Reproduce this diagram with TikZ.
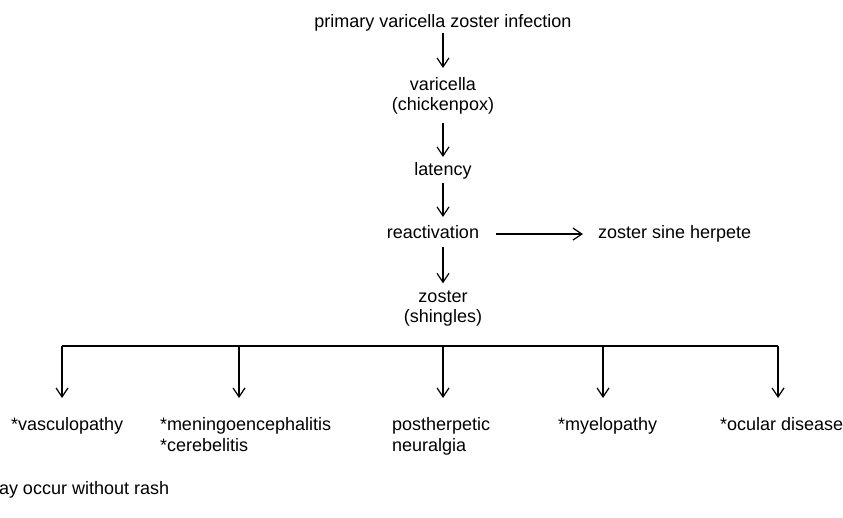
\documentclass[tikz,border=0pt]{standalone}
\usepackage{fontspec}
\setmainfont{Liberation Sans}
\usetikzlibrary{arrows.meta}
\begin{document}
\begin{tikzpicture}[x=1pt,y=-1pt,
  lbl/.style={inner sep=0pt, outer sep=0pt, font=\fontsize{18}{20}\selectfont},
  lblb/.style={inner sep=0pt, outer sep=0pt, font=\fontsize{18}{21}\selectfont},
  conn/.style={line width=1.2pt, -{Straight Barb[length=9pt,width=12pt,line width=1.2pt]}},
  plain/.style={line width=1.2pt}]
\useasboundingbox (0,0) rectangle (843,518);
% main column
\node[lbl, anchor=base] (prim) at (443,28) {primary varicella zoster infection};
\node[lbl, anchor=base, align=center] (vari) at (443,111) {varicella\\(chickenpox)};
\node[lbl, anchor=base] (lat) at (443,176) {latency};
\node[lbl, anchor=base] (react) at (433,239) {reactivation};
\node[lbl, anchor=base west] (sine) at (598,239) {zoster sine herpete};
\node[lbl, anchor=base, align=center] (zost) at (443,323) {zoster\\(shingles)};
% bottom row
\node[lblb, anchor=base west] (vasc) at (11,430) {*vasculopathy};
\node[lblb, anchor=base west, align=left] (men) at (160,451) {*meningoencephalitis\\*cerebelitis};
\node[lblb, anchor=base west, align=left] (phn) at (392,451) {postherpetic\\neuralgia};
\node[lblb, anchor=base west] (mye) at (558,430) {*myelopathy};
\node[lblb, anchor=base west] (ocu) at (720,430) {*ocular disease};
\node[lblb, anchor=base west] (note) at (-1,494) {ay occur without rash};
% connectors in the main column
\draw[conn, shorten <=1.5pt, shorten >=10pt] (prim.south) -- (vari.north);
\draw[conn, shorten <=8pt, shorten >=6pt] (vari.south) -- (lat.north);
\draw[conn, shorten <=3pt, shorten >=9pt] (lat.south) -- (lat.south |- react.north);
\draw[conn, shorten <=8pt, shorten >=8pt] (react.south -| zost.north) -- (zost.north);
\coordinate (hs) at ([xshift=17pt,yshift=-1.5pt]react.east);
\coordinate (he) at ([xshift=-15pt]sine.west);
\draw[conn] (hs) -- (he |- hs);
% branches
\coordinate (b1) at (62,346);
\coordinate (b2) at (239,346);
\coordinate (b3) at (443,346);
\coordinate (b4) at (603,346);
\coordinate (b5) at (778,346);
\draw[plain] (b1) -- (b5);
\foreach \b in {b1,b2,b3,b4,b5}{
  \draw[conn] (\b) -- ++(0,52);
}
\end{tikzpicture}
\end{document}
